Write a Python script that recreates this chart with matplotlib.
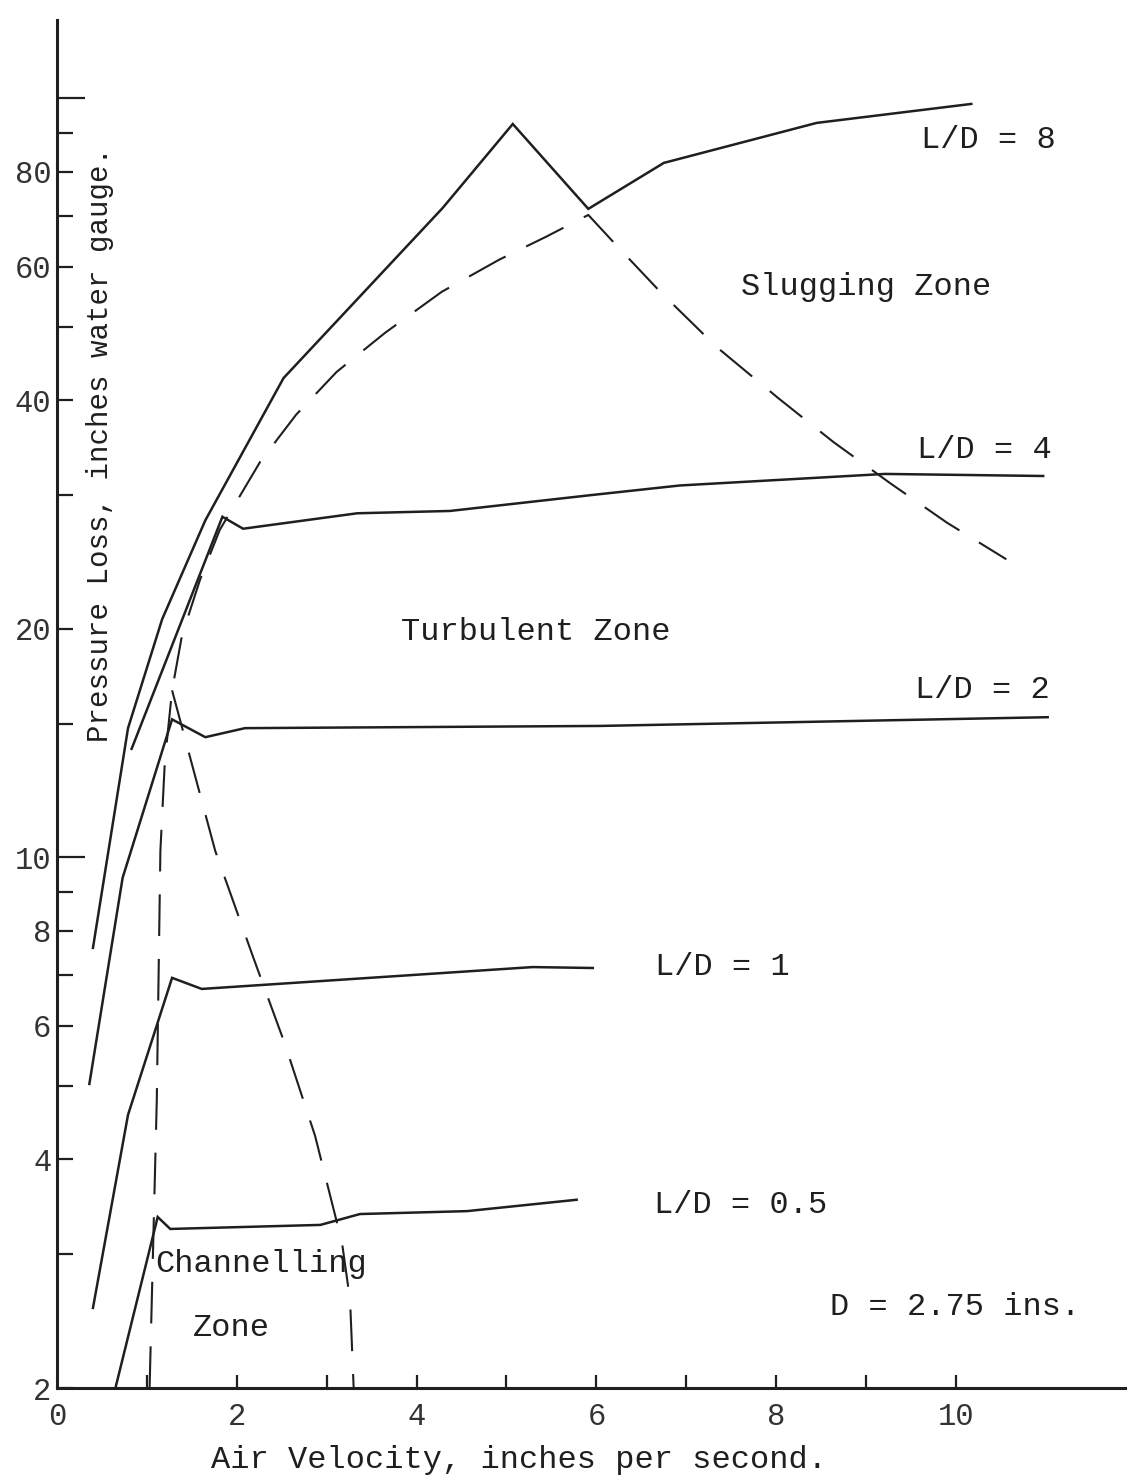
import matplotlib
matplotlib.use("Agg")
import matplotlib.pyplot as plt
from matplotlib.ticker import NullLocator

plt.rcParams["font.family"] = ["Liberation Mono", "DejaVu Sans Mono"]

INK = "#1f1f1f"

# Air velocity (in/s) and pressure loss (in. water gauge) for each bed depth ratio
ld8_v = [0.40, 0.79, 1.17, 1.65, 2.52, 4.29, 5.07, 5.91, 6.75, 8.45, 10.17]
ld8_p = [7.6, 14.8, 20.6, 27.8, 42.8, 71.7, 92.5, 71.5, 82.2, 92.8, 98.3]

ld4_v = [0.83, 1.84, 2.07, 3.34, 4.37, 5.93, 6.93, 9.21, 10.97]
ld4_p = [13.9, 28.1, 27.1, 28.4, 28.6, 30.0, 30.9, 32.0, 31.8]

ld2_v = [0.36, 0.73, 1.28, 1.65, 2.09, 6.04, 11.02]
ld2_p = [5.03, 9.4, 15.2, 14.4, 14.8, 14.9, 15.3]

ld1_v = [0.40, 0.79, 1.28, 1.61, 5.29, 5.96]
ld1_p = [2.55, 4.58, 6.94, 6.71, 7.17, 7.15]

ld05_v = [0.65, 1.12, 1.26, 2.93, 3.37, 4.56, 5.78]
ld05_p = [2.0, 3.36, 3.24, 3.28, 3.39, 3.42, 3.54]

# Zone boundaries
slug_v = [1.03, 1.11, 1.15, 1.20, 1.28, 1.39, 1.59, 1.81, 2.26, 2.66, 3.11, 3.65,
          4.28, 4.92, 5.44, 5.91, 6.25, 6.71, 7.34, 8.02, 8.63, 9.27, 9.90, 10.56]
slug_p = [2.0, 4.79, 10.2, 13.4, 16.6, 19.6, 23.2, 27.0, 33.2, 38.3, 43.6, 49.1,
          55.6, 61.3, 65.7, 70.2, 63.5, 55.6, 47.0, 40.3, 35.3, 31.1, 27.6, 24.7]

chan_v = [1.28, 1.76, 2.18, 2.53, 2.87, 3.17, 3.26, 3.30]
chan_p = [16.6, 10.2, 7.40, 5.70, 4.30, 3.11, 2.61, 2.0]

y_ticks = [2, 3, 4, 5, 6, 7, 8, 9, 10, 15, 20, 30, 40, 50, 60, 70, 80, 90, 100]
y_labels = {2: "2", 4: "4", 6: "6", 8: "8", 10: "10", 20: "20", 40: "40", 60: "60", 80: "80"}
x_ticks = [1, 2, 3, 4, 5, 6, 7, 8, 9, 10]
x_labels = {0: "0", 2: "2", 4: "4", 6: "6", 8: "8", 10: "10"}

fig = plt.figure(figsize=(11.31, 14.76), dpi=100)
ax = fig.add_axes([57 / 1131, 88 / 1476, 1068 / 1131, 1368 / 1476])

ax.set_yscale("log")
ax.set_xlim(0, 11.88)
ax.set_ylim(2, 126.8)

solid = dict(color=INK, lw=1.8, solid_joinstyle="miter", clip_on=True)
ax.plot(ld8_v, ld8_p, **solid)
ax.plot(ld4_v, ld4_p, **solid)
ax.plot(ld2_v, ld2_p, **solid)
ax.plot(ld1_v, ld1_p, **solid)
ax.plot(ld05_v, ld05_p, **solid)

dash = dict(color=INK, lw=1.5, dashes=(20, 11))
ax.plot(slug_v, slug_p, **dash)
ax.plot(chan_v, chan_p, **dash)

# Axes styling: only left and bottom spines, inward ticks
for side in ("top", "right"):
    ax.spines[side].set_visible(False)
for side in ("left", "bottom"):
    ax.spines[side].set_linewidth(2.2)
    ax.spines[side].set_color(INK)

ax.yaxis.set_minor_locator(NullLocator())
ax.xaxis.set_minor_locator(NullLocator())
ax.set_yticks(y_ticks)
ax.set_yticklabels([y_labels.get(t, "") for t in y_ticks])
ax.set_xticks([0] + x_ticks)
ax.set_xticklabels([x_labels.get(t, "") for t in [0] + x_ticks])

ax.tick_params(axis="y", direction="in", length=11.5, width=1.6, color=INK,
               labelsize=22, pad=4, labelcolor="#333333")
ax.tick_params(axis="x", direction="in", length=9.5, width=1.6, color=INK,
               labelsize=22, pad=10, labelcolor="#333333")
for t, tick in zip(y_ticks, ax.yaxis.get_major_ticks()):
    if t in (10, 100):
        tick.tick1line.set_markersize(20)
ax.xaxis.get_major_ticks()[0].tick1line.set_visible(False)

ax.set_xlabel("Air Velocity, inches per second.", fontsize=23, color=INK, va="center")
ax.xaxis.set_label_coords((519 - 57) / 1068, (1388 - 1460) / 1368)
ax.set_ylabel("Pressure Loss, inches water gauge.", fontsize=21, color=INK, va="center")
ax.yaxis.set_label_coords((100 - 57) / 1068, (1388 - 445) / 1368)

txt = dict(fontsize=23, color=INK, ha="center", va="center")
ax.text(10.36, 88.2, "L/D = 8", **txt)
ax.text(9.0, 56.4, "Slugging Zone", **txt)
ax.text(10.32, 34.4, "L/D = 4", **txt)
ax.text(5.33, 19.8, "Turbulent Zone", **txt)
ax.text(10.29, 16.6, "L/D = 2", **txt)
ax.text(7.40, 7.17, "L/D = 1", **txt)
ax.text(7.60, 3.48, "L/D = 0.5", **txt)
ax.text(1.09, 2.91, "Channelling", fontsize=23, color=INK, ha="left", va="center")
ax.text(1.94, 2.40, "Zone", **txt)
ax.text(9.99, 2.56, "D = 2.75 ins.", **txt)

fig.savefig("out.png", dpi=100, facecolor="white")
